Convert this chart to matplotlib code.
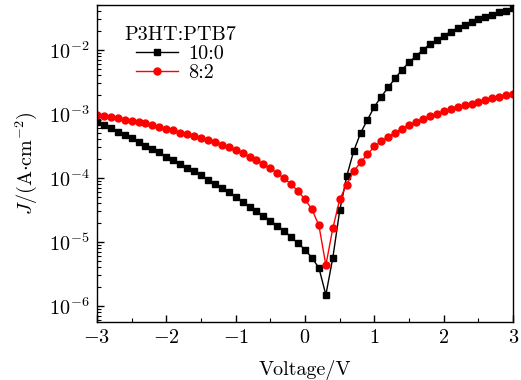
import numpy as np
import matplotlib
matplotlib.use('Agg')
import matplotlib.pyplot as plt
from matplotlib.ticker import LogLocator, MultipleLocator, NullFormatter

plt.rcParams['font.family'] = 'serif'
plt.rcParams['font.serif'] = ['cmr10', 'DejaVu Serif']
plt.rcParams['mathtext.fontset'] = 'cm'
plt.rcParams['axes.formatter.use_mathtext'] = True
plt.rcParams['axes.unicode_minus'] = True

# Data
voltage = np.linspace(-3, 3, 61)

j_10_0 = [7.6e-4, 6.8e-4, 6.0e-4, 5.2e-4, 4.7e-4, 4.2e-4, 3.6e-4, 3.2e-4, 2.8e-4, 2.5e-4,
          2.1e-4, 1.9e-4, 1.66e-4, 1.45e-4, 1.26e-4, 1.10e-4, 9.3e-5, 8.1e-5, 6.9e-5, 5.9e-5,
          5.0e-5, 4.2e-5, 3.55e-5, 3.0e-5, 2.57e-5, 2.14e-5, 1.78e-5, 1.48e-5, 1.17e-5, 9.5e-6,
          7.5e-6, 5.6e-6, 3.9e-6, 1.48e-6, 5.6e-6, 3.1e-5, 1.05e-4, 2.6e-4, 5.0e-4, 8.1e-4,
          1.30e-3, 1.86e-3, 2.61e-3, 3.61e-3, 4.92e-3, 6.43e-3, 8.05e-3, 1.0e-2, 1.23e-2, 1.43e-2,
          1.67e-2, 1.93e-2, 2.21e-2, 2.46e-2, 2.74e-2, 3.02e-2, 3.28e-2, 3.56e-2, 3.88e-2, 4.11e-2,
          4.49e-2]

j_8_2 = [9.5e-4, 9.1e-4, 8.9e-4, 8.5e-4, 8.1e-4, 7.8e-4, 7.4e-4, 7.1e-4, 6.6e-4, 6.2e-4,
         5.75e-4, 5.5e-4, 5.1e-4, 4.8e-4, 4.5e-4, 4.2e-4, 3.9e-4, 3.6e-4, 3.3e-4, 3.0e-4,
         2.75e-4, 2.45e-4, 2.14e-4, 1.9e-4, 1.62e-4, 1.41e-4, 1.17e-4, 9.8e-5, 7.9e-5, 6.2e-5,
         4.6e-5, 3.2e-5, 1.8e-5, 4.3e-6, 1.62e-5, 4.6e-5, 7.8e-5, 1.26e-4, 1.74e-4, 2.34e-4,
         3.1e-4, 3.7e-4, 4.4e-4, 5.1e-4, 5.9e-4, 6.6e-4, 7.5e-4, 8.3e-4, 9.1e-4, 1.0e-3,
         1.10e-3, 1.20e-3, 1.27e-3, 1.36e-3, 1.45e-3, 1.55e-3, 1.66e-3, 1.74e-3, 1.86e-3, 1.95e-3,
         2.04e-3]

fs = 14.5

fig = plt.figure(figsize=(5.21, 3.80), dpi=100)
ax = fig.add_axes([0.186, 0.153, 0.799, 0.834])

ax.plot(voltage, j_10_0, color='black', marker='s', markersize=4.3, linewidth=1.0, label='10:0')
ax.plot(voltage, j_8_2, color='red', marker='o', markersize=5.0, linewidth=1.0, label='8:2')

ax.set_yscale('log')
ax.set_xlim(-3, 3)
ax.set_ylim(5.6e-7, 5.05e-2)
ax.xaxis.set_major_locator(MultipleLocator(1))
ax.xaxis.set_minor_locator(MultipleLocator(0.5))
ax.yaxis.set_major_locator(LogLocator(base=10, numticks=20))
ax.yaxis.set_minor_locator(LogLocator(base=10, subs=np.arange(2, 10), numticks=20))
ax.yaxis.set_minor_formatter(NullFormatter())
ax.tick_params(which='both', direction='in', labelsize=fs)
ax.tick_params(which='major', length=5, width=1, pad=5.5)
ax.tick_params(which='minor', length=3, width=0.8)
for s in ax.spines.values():
    s.set_linewidth(1.0)

ax.set_xlabel('Voltage/V', fontsize=fs, labelpad=9)
ax.set_ylabel(r'$J/(\mathrm{A{\cdot}cm^{-2}})$', fontsize=fs, labelpad=7)

leg = ax.legend(title='P3HT:PTB7', loc='upper left', bbox_to_anchor=(0.022, 0.992),
                frameon=False, fontsize=fs, title_fontsize=fs, handlelength=2.1,
                borderaxespad=0.6, labelspacing=0.05, handletextpad=0.5, borderpad=0.3)

fig.savefig('out.png', dpi=100)
